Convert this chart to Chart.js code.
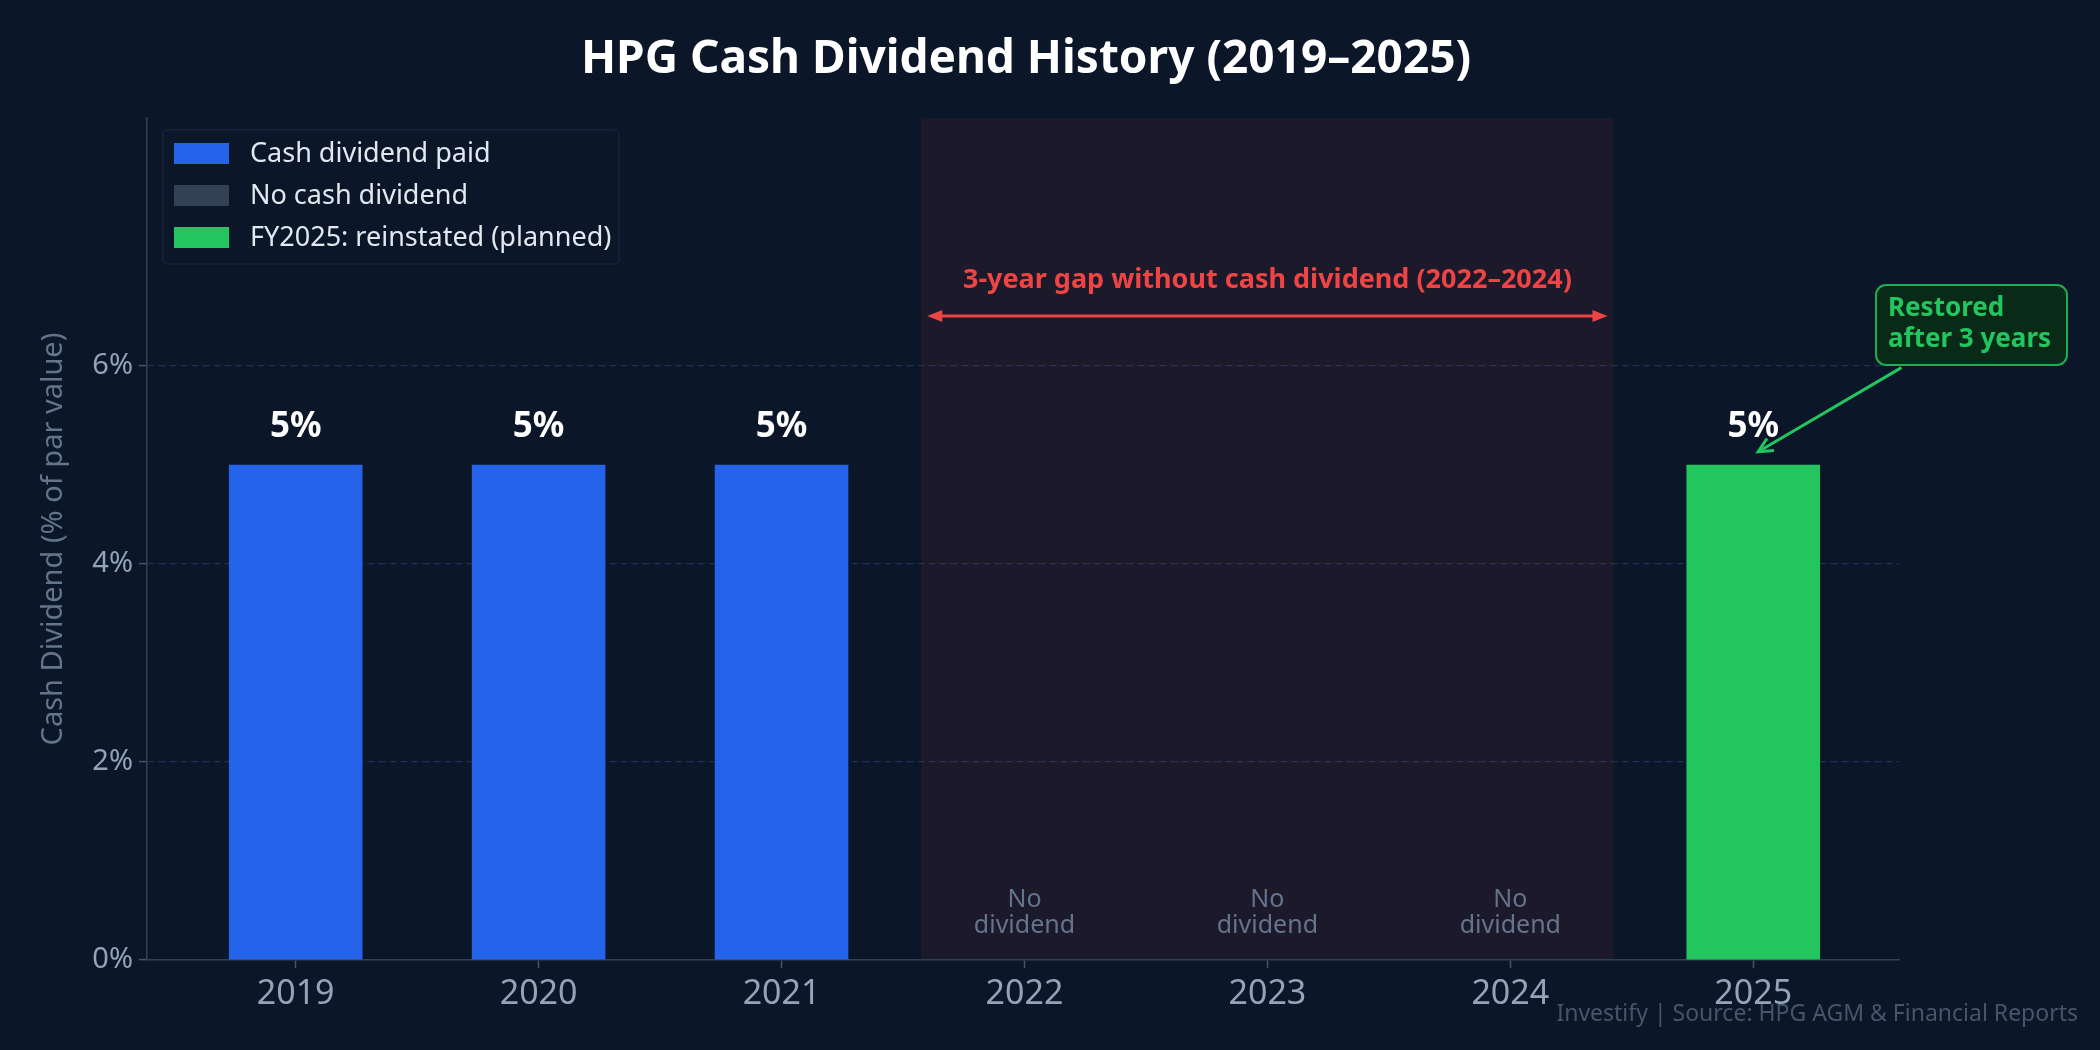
<!DOCTYPE html>
<html><head><meta charset="utf-8">
<script src="https://cdn.jsdelivr.net/npm/chart.js@4.4.0/dist/chart.umd.min.js"></script>
<style>html,body{margin:0;padding:0;background:#0b1628;overflow:hidden}</style>
</head><body>
<canvas id="c" width="2100" height="1050" style="width:2100px;height:1050px;display:block"></canvas>
<script>
// ---- data ----
const years = ['2019', '2020', '2021', '2022', '2023', '2024', '2025'];
const dividendPct = [5, 5, 5, 0, 0, 0, 5];
const barStatus = ['paid', 'paid', 'paid', 'none', 'none', 'none', 'planned'];
const yTickValues = [0, 2, 4, 6];
const legendLabels = ['Cash dividend paid', 'No cash dividend', 'FY2025: reinstated (planned)'];
const legendStatus = ['paid', 'none', 'planned'];
const gapSpan = [2.575, 5.425];
const gapArrow = [2.6, 5.4, 6.5];
const gapText = '3-year gap without cash dividend (2022–2024)';
const noDivText = ['No', 'dividend'];
const restoredText = ['Restored', 'after 3 years'];
const titleText = 'HPG Cash Dividend History (2019–2025)';
const yTitleText = 'Cash Dividend (% of par value)';
const footerText = 'Investify | Source: HPG AGM & Financial Reports';

const statusColor = {paid: '#2563eb', none: '#334155', planned: '#22c55e'};
const BG = '#0b1628';
const FONT = "'Noto Sans', 'DejaVu Sans', sans-serif";

const overlay = {
  id: 'overlay',
  beforeDraw(chart) {
    const c = chart.ctx;
    c.save(); c.fillStyle = BG; c.fillRect(0, 0, chart.width, chart.height); c.restore();
  },
  beforeDatasetsDraw(chart) {
    const c = chart.ctx, xs = chart.scales.x, a = chart.chartArea;
    c.save();
    c.fillStyle = 'rgba(239,68,68,0.07)';
    const x1 = xs.getPixelForValue(gapSpan[0]), x2 = xs.getPixelForValue(gapSpan[1]);
    c.fillRect(x1, a.top, x2 - x1, a.bottom - a.top - 1);
    c.restore();
  },
  afterDraw(chart) {
    const c = chart.ctx, xs = chart.scales.x, ys = chart.scales.y, a = chart.chartArea;
    c.save();
    // value labels
    c.textAlign = 'center'; c.textBaseline = 'middle';
    dividendPct.forEach((v, i) => {
      const x = xs.getPixelForValue(i);
      if (v > 0) {
        c.fillStyle = '#ffffff'; c.font = 'bold 35px ' + FONT;
        c.fillText(v + '%', x, ys.getPixelForValue(v + 0.38));
      } else {
        c.fillStyle = '#64748b'; c.font = '25px ' + FONT;
        c.fillText(noDivText[0], x, ys.getPixelForValue(0.61));
        c.fillText(noDivText[1], x, ys.getPixelForValue(0.34));
      }
    });
    // gap arrow
    const ax1 = xs.getPixelForValue(gapArrow[0]), ax2 = xs.getPixelForValue(gapArrow[1]), ay = ys.getPixelForValue(gapArrow[2]);
    c.strokeStyle = '#ef4444'; c.fillStyle = '#ef4444'; c.lineWidth = 3;
    c.beginPath(); c.moveTo(ax1 + 6, ay); c.lineTo(ax2 - 6, ay); c.stroke();
    [[ax1, 1], [ax2, -1]].forEach(([px, d]) => {
      c.beginPath(); c.moveTo(px, ay); c.lineTo(px + d * 15, ay - 6); c.lineTo(px + d * 15, ay + 6); c.closePath(); c.fill();
    });
    c.font = 'bold 27px ' + FONT;
    c.fillText(gapText, xs.getPixelForValue(4), ys.getPixelForValue(6.86));
    // restored annotation
    const bx = 1876, by = 285, bw = 191, bh = 80;
    const hx = xs.getPixelForValue(6.02), hy = ys.getPixelForValue(5.13);
    const tx = xs.getPixelForValue(6.61), ty = ys.getPixelForValue(5.98);
    c.strokeStyle = '#22c55e'; c.lineWidth = 3;
    c.beginPath(); c.moveTo(tx, ty); c.lineTo(hx, hy); c.stroke();
    const ang = Math.atan2(hy - ty, hx - tx);
    c.beginPath();
    c.moveTo(hx - 16 * Math.cos(ang - 0.45), hy - 16 * Math.sin(ang - 0.45));
    c.lineTo(hx, hy);
    c.lineTo(hx - 16 * Math.cos(ang + 0.45), hy - 16 * Math.sin(ang + 0.45));
    c.stroke();
    c.beginPath(); c.roundRect(bx, by, bw, bh, 10);
    c.fillStyle = '#092a17'; c.fill();
    c.strokeStyle = 'rgba(34,197,94,0.85)'; c.lineWidth = 2; c.stroke();
    c.fillStyle = '#22c55e'; c.font = 'bold 26px ' + FONT; c.textAlign = 'left';
    c.fillText(restoredText[0], 1888, 309);
    c.fillText(restoredText[1], 1888, 340);
    // legend
    c.beginPath(); c.roundRect(163, 130, 456, 134, 4);
    c.fillStyle = 'rgba(11,22,40,0.9)'; c.fill();
    c.strokeStyle = '#16233a'; c.lineWidth = 1.5; c.stroke();
    c.font = '27px ' + FONT; c.textBaseline = 'middle';
    legendLabels.forEach((lab, i) => {
      const yy = 153 + i * 42;
      c.fillStyle = statusColor[legendStatus[i]];
      c.fillRect(174, yy - 10, 55, 21);
      c.fillStyle = '#e2e8f0';
      c.fillText(lab, 250, yy + 1);
    });
    // title
    c.textAlign = 'center'; c.fillStyle = '#ffffff'; c.font = 'bold 46px ' + FONT;
    c.fillText(titleText, 1026, 60);
    // y title
    c.save(); c.translate(54, (a.top + a.bottom) / 2); c.rotate(-Math.PI / 2);
    c.fillStyle = '#64748b'; c.font = '29px ' + FONT; c.fillText(yTitleText, 0, 0);
    c.restore();
    // footer
    c.textAlign = 'right'; c.fillStyle = '#475569'; c.font = '23px ' + FONT;
    c.fillText(footerText, 2078, 1014);
    c.restore();
  }
};

new Chart(document.getElementById('c'), {
  type: 'bar',
  data: {
    datasets: [{
      data: years.map((y, i) => ({x: i, y: dividendPct[i]})),
      backgroundColor: barStatus.map(s => statusColor[s]),
      borderWidth: 0,
      barPercentage: 0.55,
      categoryPercentage: 1.0
    }]
  },
  options: {
    responsive: false,
    devicePixelRatio: 1,
    animation: false,
    layout: {padding: {top: 118, right: 201, left: 0, bottom: 0}},
    plugins: {legend: {display: false}, tooltip: {enabled: false}, title: {display: false}},
    scales: {
      x: {
        type: 'linear', min: -0.612, max: 6.6, offset: false,
        afterFit: s => { s.height = 90; },
        afterBuildTicks: s => { s.ticks = years.map((_, i) => ({value: i})); },
        ticks: {callback: v => years[v], color: '#94a3b8', font: {family: FONT, size: 34}, padding: 6, autoSkip: false, maxRotation: 0},
        grid: {offset: false, drawOnChartArea: false, drawTicks: true, tickLength: 8, tickColor: '#475569', tickWidth: 1.5},
        border: {color: '#334155', width: 1.5}
      },
      y: {
        min: 0, max: 8.5,
        afterFit: s => { s.width = 147; },
        afterBuildTicks: s => { s.ticks = yTickValues.map(v => ({value: v})); },
        ticks: {callback: v => v + '%', color: '#94a3b8', font: {family: FONT, size: 29}, padding: 6},
        grid: {color: ctx => (ctx.tick && ctx.tick.value === 0) ? 'rgba(0,0,0,0)' : '#1e3354', lineWidth: 1.2, tickLength: 8, tickColor: '#475569', tickWidth: 1.5},
        border: {color: '#334155', width: 1.5, dash: [7, 4]}
      }
    }
  },
  plugins: [overlay]
});
</script>
</body></html>
